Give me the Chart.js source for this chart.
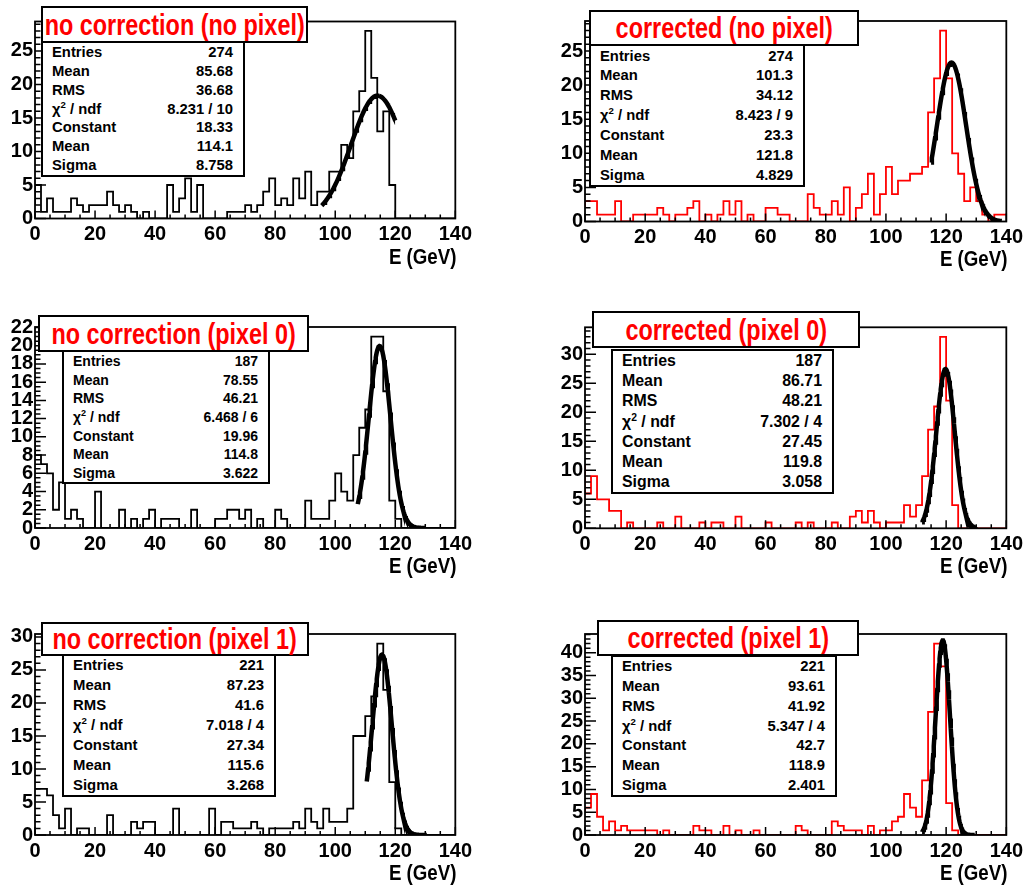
<!DOCTYPE html>
<html>
<head>
<meta charset="utf-8">
<script src="https://cdn.jsdelivr.net/npm/chart.js@4.4.1/dist/chart.umd.min.js"></script>
<style>
  body { margin: 0; width: 1027px; height: 889px; position: relative; overflow: hidden; background: #fff;
         font-family: "Liberation Sans", Arial, Helvetica, sans-serif; }
  .panel { position: absolute; }
  .title { position: absolute; box-sizing: border-box; background: #fff; border: 2px solid #000; z-index: 2;
           display: flex; align-items: center; justify-content: center; white-space: nowrap;
           color: #f00; font-weight: bold; font-size: 30px; }
  .title span { display: inline-block; transform: scaleX(0.78); }
  .stats { position: absolute; box-sizing: border-box; background: #fff; border: 2px solid #000; z-index: 2;
           display: flex; flex-direction: column; justify-content: space-around; padding: 0 10px 0 9px;
           font-weight: bold; color: #000; }
  .stats div { display: flex; justify-content: space-between; line-height: 1; }
  .stats sup { font-size: 0.65em; line-height: 0; }
  .xtitle { position: absolute; z-index: 2; font-weight: bold; font-size: 22px; line-height: 24px;
            transform: scaleX(0.85); transform-origin: right center; white-space: nowrap; }
</style>
</head>
<body>
<script>
// 70 bins of 2 GeV between 0 and 140 GeV
const binWidth = 2;
const xTicks = [0, 20, 40, 60, 80, 100, 120, 140];
const statLabels = ['Entries', 'Mean', 'RMS', 'χ<sup>2</sup> / ndf', 'Constant', 'Mean', 'Sigma'];

// no correction, no pixel
const noCorrNoPixel = [2,5,1,3,1,1,1,3,2,1, 2,2,2,4,2,1,2,1,0,1, 0,0,0,5,1,3,6,1,5,0,
  0,0,0,1,1,1,2,1,2,4, 6,2,3,2,6,3,7,2,4,4, 7,7,11,9,16,19,28,21,13,16, 5,0,0,0,0,0,0,0,0,0];
const statsNoCorrNoPixel = ['274', '85.68', '36.68', '8.231 / 10', '18.33', '114.1', '8.758'];
const fitRangeNoCorrNoPixel = [95.5, 120];

// corrected, no pixel
const corrNoPixel = [2,3,3,1,1,1,3,0,0,1, 1,1,1,2,1,0,1,1,2,3, 0,1,0,1,3,1,3,0,1,0,
  0,2,2,1,1,0,0,0,4,2, 1,1,3,1,5,0,2,4,7,1, 4,8,4,6,6,7,7,8,16,21, 28,21,10,7,3,5,3,1,0,1];
const statsCorrNoPixel = ['274', '101.3', '34.12', '8.423 / 9', '23.3', '121.8', '4.829'];
const fitRangeCorrNoPixel = [115, 138.5];

// no correction, pixel 0
const noCorrPixel0 = [11,8,7,6,2,5,1,2,1,0, 0,4,0,0,0,2,0,1,0,1, 2,0,1,1,1,0,0,2,0,0,
  0,1,1,2,2,1,2,0,1,0, 0,2,1,0,0,0,3,1,1,1, 3,6,4,3,8,11,13,21,21,15, 3,1,0,0,0,0,0,0,0,0];
const statsNoCorrPixel0 = ['187', '78.55', '46.21', '6.468 / 6', '19.96', '114.8', '3.622'];
const fitRangeNoCorrPixel0 = [107.5, 130];

// corrected, pixel 0
const corrPixel0 = [11,6,9,5,5,3,3,0,1,0, 0,0,0,1,0,0,2,0,0,0, 1,0,1,1,0,0,2,0,0,0,
  0,1,0,0,0,0,1,0,1,0, 0,0,1,0,0,2,3,1,3,1, 0,1,1,1,4,2,4,9,17,21, 33,22,4,0,0,0,0,0,0,0];
const statsCorrPixel0 = ['187', '86.71', '48.21', '7.302 / 4', '27.45', '119.8', '3.058'];
const fitRangeCorrPixel0 = [112, 130];

// no correction, pixel 1
const noCorrPixel1 = [7,7,7,6,3,1,4,0,1,1, 0,0,0,3,0,0,0,2,1,2, 2,0,0,0,4,0,0,0,0,0,
  4,0,2,2,1,1,1,2,1,0, 1,1,1,1,2,1,4,2,1,4, 2,2,2,4,15,15,18,21,29,22, 8,1,0,0,0,0,0,0,0,0];
const statsNoCorrPixel1 = ['221', '87.23', '41.6', '7.018 / 4', '27.34', '115.6', '3.268'];
const fitRangeNoCorrPixel1 = [110.5, 130.5];

// corrected, pixel 1
const corrPixel1 = [5,6,9,4,1,3,1,2,1,1, 1,1,1,0,1,0,0,0,0,2, 1,1,0,0,2,0,1,0,0,1,
  0,0,0,0,0,0,2,1,0,0, 0,0,3,2,1,1,1,0,2,0, 1,1,3,4,9,6,4,12,27,42, 37,7,1,0,0,0,0,0,0,0];
const statsCorrPixel1 = ['221', '93.61', '41.92', '5.347 / 4', '42.7', '118.9', '2.401'];
const fitRangeCorrPixel1 = [112, 129.5];

const panels = [
  { title: 'no correction (no pixel)', values: noCorrNoPixel, stats: statsNoCorrNoPixel, range: fitRangeNoCorrNoPixel,
    color: '#000', yStep: 5, yMinor: 1,
    box: [0, 0, 476, 270], area: [35, 21.5, 456, 218.5],
    titleBox: [41, 6, 267, 37], statBox: [41, 41, 204, 136], statFont: 14.8, xTitleY: 257 },
  { title: 'corrected (no pixel)', values: corrNoPixel, stats: statsCorrNoPixel, range: fitRangeCorrNoPixel,
    color: '#f00', yStep: 5, yMinor: 1,
    box: [548, 0, 479, 272], area: [585, 21, 1007, 221.5],
    titleBox: [589, 10, 270, 36], statBox: [589, 44, 216, 143], statFont: 14.8, xTitleY: 259 },
  { title: 'no correction (pixel 0)', values: noCorrPixel0, stats: statsNoCorrPixel0, range: fitRangeNoCorrPixel0,
    color: '#000', yStep: 2, yMinor: 0.5,
    box: [0, 305, 476, 275], area: [35, 327, 456, 528],
    titleBox: [38, 315, 271, 37], statBox: [62, 350, 208, 134], statFont: 14, xTitleY: 566 },
  { title: 'corrected (pixel 0)', values: corrPixel0, stats: statsCorrPixel0, range: fitRangeCorrPixel0,
    color: '#f00', yStep: 5, yMinor: 1,
    box: [548, 305, 479, 275], area: [585, 327.3, 1007, 528.3],
    titleBox: [592, 311, 268, 37], statBox: [611, 349, 223, 145], statFont: 15.9, xTitleY: 566 },
  { title: 'no correction (pixel 1)', values: noCorrPixel1, stats: statsNoCorrPixel1, range: fitRangeNoCorrPixel1,
    color: '#000', yStep: 5, yMinor: 1,
    box: [0, 612, 476, 277], area: [35, 634, 456, 835],
    titleBox: [41, 622, 268, 34], statBox: [62, 654, 214, 143], statFont: 14.9, xTitleY: 873 },
  { title: 'corrected (pixel 1)', values: corrPixel1, stats: statsCorrPixel1, range: fitRangeCorrPixel1,
    color: '#f00', yStep: 5, yMinor: 1,
    box: [548, 612, 479, 277], area: [585, 634, 1007, 835],
    titleBox: [597, 620, 262, 36], statBox: [611, 655, 226, 142], statFont: 14.8, xTitleY: 873 }
];

const tickFont = { family: '"Liberation Sans", Arial, Helvetica, sans-serif', weight: 'bold', size: 20 };

// ROOT-style frame with inward major/minor ticks
const frameTicks = {
  id: 'frameTicks',
  afterDatasetsDraw(chart, args, opts) {
    const { ctx, chartArea: a, scales: { x, y } } = chart;
    ctx.save();
    ctx.strokeStyle = '#000';
    ctx.lineWidth = 1.5;
    ctx.beginPath();
    for (let v = 0; v <= x.max + 1e-6; v += 5) {
      const px = x.getPixelForValue(v);
      const len = v % 20 === 0 ? 8 : 4;
      ctx.moveTo(px, a.bottom);
      ctx.lineTo(px, a.bottom - len);
    }
    for (let k = 0; k * opts.minor <= y.max; k++) {
      const v = k * opts.minor;
      const py = y.getPixelForValue(v);
      const major = Math.abs(v / opts.major - Math.round(v / opts.major)) < 1e-6;
      ctx.moveTo(a.left, py);
      ctx.lineTo(a.left + (major ? 11 : 5.5), py);
    }
    ctx.stroke();
    ctx.lineWidth = 1.8;
    ctx.strokeRect(a.left, a.top, a.right - a.left, a.bottom - a.top);
    ctx.restore();
  }
};

function place(el, r) {
  el.style.left = r[0] + 'px';
  el.style.top = r[1] + 'px';
  el.style.width = r[2] + 'px';
  el.style.height = r[3] + 'px';
}

function gaussCurve(c, m, s, lo, hi) {
  const pts = [];
  const n = 90;
  for (let k = 0; k <= n; k++) {
    const x = lo + (hi - lo) * k / n;
    pts.push({ x, y: c * Math.exp(-0.5 * ((x - m) / s) ** 2) });
  }
  return pts;
}

function drawPanel(p) {
  const [bl, bt, bw, bh] = p.box;
  const [al, at, ar, ab] = p.area;

  const wrap = document.createElement('div');
  wrap.className = 'panel';
  place(wrap, p.box);
  const canvas = document.createElement('canvas');
  canvas.width = bw;
  canvas.height = bh;
  wrap.appendChild(canvas);
  document.body.appendChild(wrap);

  // histogram outline: one point per low bin edge plus the last upper edge
  const hist = p.values.map((v, i) => ({ x: i * binWidth, y: v }));
  hist.push({ x: p.values.length * binWidth, y: p.values[p.values.length - 1] });

  const constant = parseFloat(p.stats[4]);
  const mean = parseFloat(p.stats[5]);
  const sigma = parseFloat(p.stats[6]);
  const fit = gaussCurve(constant, mean, sigma, p.range[0], p.range[1]);

  const yMax = 1.05 * Math.max(...p.values);
  const yTicks = [];
  for (let v = 0; v <= yMax; v += p.yStep) yTicks.push(v);

  new Chart(canvas, {
    type: 'line',
    data: {
      datasets: [
        { data: fit, borderColor: '#000', borderWidth: 4.5, pointRadius: 0, tension: 0, order: 0 },
        { data: hist, borderColor: p.color, borderWidth: 1.8, pointRadius: 0, stepped: 'after', order: 1 }
      ]
    },
    options: {
      responsive: false,
      animation: false,
      events: [],
      layout: { padding: { left: 0, top: at - bt, right: bl + bw - ar, bottom: 0 } },
      plugins: { legend: { display: false }, tooltip: { enabled: false }, frameTicks: { major: p.yStep, minor: p.yMinor } },
      scales: {
        x: {
          type: 'linear', min: 0, max: 140,
          afterFit: s => { s.height = bt + bh - ab; },
          afterBuildTicks: s => { s.ticks = xTicks.map(v => ({ value: v })); },
          ticks: { autoSkip: false, maxRotation: 0, padding: 4, color: '#000', font: tickFont },
          grid: { display: false, drawTicks: false },
          border: { display: false }
        },
        y: {
          type: 'linear', min: 0, max: yMax,
          afterFit: s => { s.width = al - bl; },
          afterBuildTicks: s => { s.ticks = yTicks.map(v => ({ value: v })); },
          ticks: { autoSkip: false, padding: 2, color: '#000', font: tickFont },
          grid: { display: false, drawTicks: false },
          border: { display: false }
        }
      }
    },
    plugins: [frameTicks]
  });

  const title = document.createElement('div');
  title.className = 'title';
  place(title, p.titleBox);
  title.innerHTML = '<span>' + p.title + '</span>';
  document.body.appendChild(title);

  const stats = document.createElement('div');
  stats.className = 'stats';
  place(stats, p.statBox);
  stats.style.fontSize = p.statFont + 'px';
  stats.innerHTML = statLabels.map((lab, i) =>
    '<div><span>' + lab + '</span><span>' + p.stats[i] + '</span></div>').join('');
  document.body.appendChild(stats);

  const xt = document.createElement('div');
  xt.className = 'xtitle';
  xt.textContent = 'E (GeV)';
  xt.style.right = (1027 - ar) + 'px';
  xt.style.top = (p.xTitleY - 12) + 'px';
  document.body.appendChild(xt);
}

panels.forEach(drawPanel);
</script>
</body>
</html>
